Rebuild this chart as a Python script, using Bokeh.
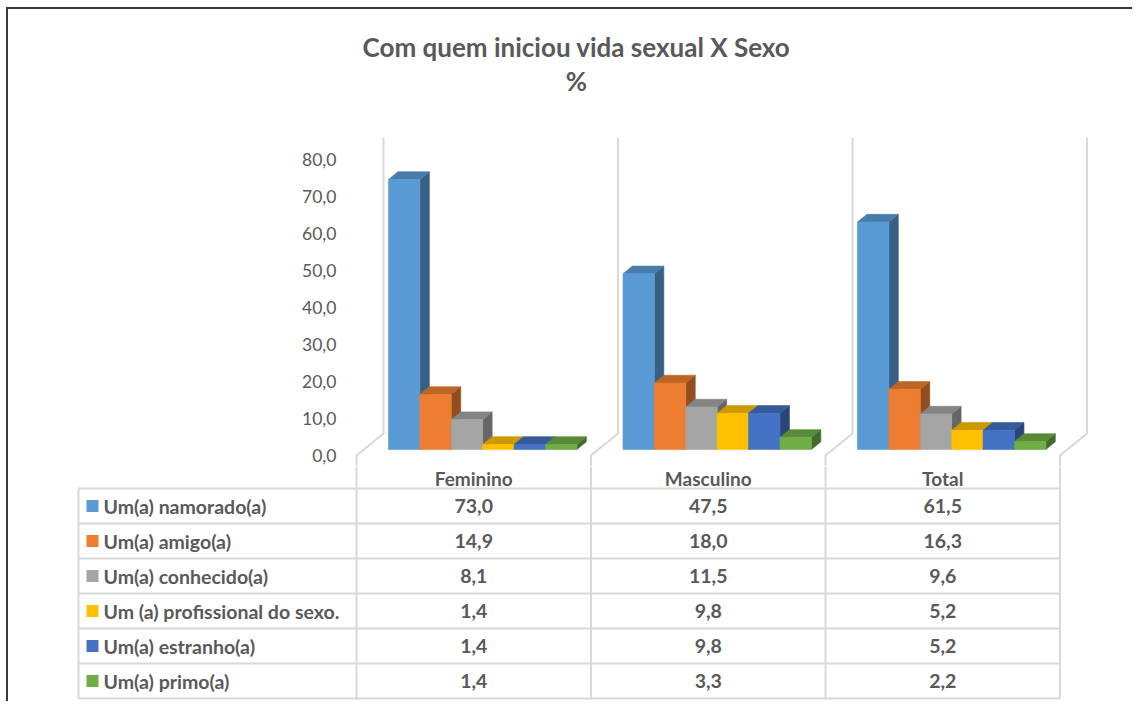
from bokeh.plotting import figure
from bokeh.layouts import column
from bokeh.models import Range1d, FixedTicker, CustomJSTickFormatter
from bokeh.core.properties import value
from bokeh.embed import file_html
from bokeh.resources import INLINE

# ---------------- data ----------------
title_lines = ["Com quem iniciou vida sexual X Sexo", "%"]
categories = ["Feminino", "Masculino", "Total"]
series_names = ["Um(a) namorado(a)", "Um(a) amigo(a)", "Um(a) conhecido(a)",
                "Um (a) profissional do sexo.", "Um(a) estranho(a)", "Um(a) primo(a)"]
namorado = [73.0, 47.5, 61.5]
amigo = [14.9, 18.0, 16.3]
conhecido = [8.1, 11.5, 9.6]
profissional = [1.4, 9.8, 5.2]
estranho = [1.4, 9.8, 5.2]
primo = [1.4, 3.3, 2.2]
series_values = [namorado, amigo, conhecido, profissional, estranho, primo]
series_colors = ["#5B9BD5", "#ED7D31", "#A5A5A5", "#FFC000", "#4472C4", "#70AD47"]
y_ticks = [0, 10, 20, 30, 40, 50, 60, 70, 80]

# ---------------- style / layout ----------------
FONT = "Lato"
TXT = "#595959"
GRID = "#D9D9D9"

ORG_X, ORG_Y = 8, 9          # page position of content (after CSS margin + border)
W = 1124
H_CHART = 457
H_TABLE = 235
CAT_PX = 234.5               # px per category
X0_PX = 356                  # page x of category 0 front edge
Y0_PX = 455                  # page y of value 0 on front plane
PX_PER_UNIT = 3.70
FRAME_LEFT_PX = 345
ROW_PX = 35.0
TABLE_TOP_PX = 488           # page y of first table row line
HEADER_Y_PX = 478

DXW = 27 / CAT_PX            # depth offset (front -> back wall), x
DYW = 22 / PX_PER_UNIT       # depth offset, y
Z_FRONT, Z_BACK = 0.27, 0.62
BAR_OFF = 24.7 / CAT_PX
BAR_W = 31.4 / CAT_PX


def px_to_x(px):
    return (px - X0_PX) / CAT_PX


def shade(hexcol, f):
    h = hexcol.lstrip("#")
    r, g, b = (int(h[i:i + 2], 16) for i in (0, 2, 4))
    return "#%02x%02x%02x" % (int(r * f), int(g * f), int(b * f))


def proj(x, y, z):
    return x + z * DXW, y + z * DYW


# ---------------- chart figure ----------------
p = figure(width=W, height=H_CHART, output_backend="svg", toolbar_location=None,
           x_range=Range1d(px_to_x(FRAME_LEFT_PX), px_to_x(ORG_X + W)),
           y_range=Range1d(-(ORG_Y + H_CHART - Y0_PX) / PX_PER_UNIT,
                            (Y0_PX - ORG_Y) / PX_PER_UNIT),
           x_axis_location=None,
           min_border_left=FRAME_LEFT_PX - ORG_X, min_border_right=0,
           min_border_top=0, min_border_bottom=0)
p.frame_align = False
p.outline_line_color = None
p.xgrid.visible = False
p.ygrid.visible = False

ax = p.yaxis[0]
ax.ticker = FixedTicker(ticks=y_ticks)
ax.formatter = CustomJSTickFormatter(code="return tick.toFixed(1).replace('.', ',');")
ax.axis_line_color = None
ax.major_tick_line_color = None
ax.minor_tick_line_color = None
ax.major_label_text_font = FONT
ax.major_label_text_font_size = "17.5px"
ax.major_label_text_color = TXT
ax.major_label_standoff = 3

# walls / floor dividers
ymin_chart = p.y_range.start
wx, wy = [], []
for i in range(len(categories) + 1):
    bx0, by0 = proj(i, 0, 1)
    bx1, by1 = proj(i, y_ticks[-1], 1)
    fx, fy = proj(i, 0, 0)
    wx.append([bx1, bx0, fx, fx])
    wy.append([by1, by0, fy, ymin_chart])
p.multi_line(wx, wy, line_color=GRID, line_width=2)

# 3D bars
xs, ys, cols = [], [], []
for i in range(len(categories)):
    for j, vals in enumerate(series_values):
        v = vals[i]
        x0 = i + BAR_OFF + j * BAR_W
        x1 = x0 + BAR_W
        c = series_colors[j]
        pts = [proj(x1, 0, Z_FRONT), proj(x1, 0, Z_BACK), proj(x1, v, Z_BACK), proj(x1, v, Z_FRONT)]
        xs.append([q[0] for q in pts]); ys.append([q[1] for q in pts]); cols.append(shade(c, 0.62))
        pts = [proj(x0, v, Z_FRONT), proj(x1, v, Z_FRONT), proj(x1, v, Z_BACK), proj(x0, v, Z_BACK)]
        xs.append([q[0] for q in pts]); ys.append([q[1] for q in pts]); cols.append(shade(c, 0.80))
        pts = [proj(x0, 0, Z_FRONT), proj(x1, 0, Z_FRONT), proj(x1, v, Z_FRONT), proj(x0, v, Z_FRONT)]
        xs.append([q[0] for q in pts]); ys.append([q[1] for q in pts]); cols.append(c)
p.patches(xs=xs, ys=ys, fill_color=cols, line_color=cols, line_width=0.6)

# title
p.text(x=[px_to_x(576)] * 2,
       y=[(Y0_PX - 46) / PX_PER_UNIT, (Y0_PX - 80) / PX_PER_UNIT],
       text=title_lines, text_font=value(FONT), text_font_style="bold",
       text_font_size="26px", text_color=TXT, text_align="center", text_baseline="middle")

# ---------------- table figure ----------------
n_rows = len(series_names)
t_top = ORG_Y + H_CHART
t = figure(width=W, height=H_TABLE, output_backend="svg", toolbar_location=None,
           x_range=Range1d(px_to_x(ORG_X), px_to_x(ORG_X + W)),
           y_range=Range1d((t_top + H_TABLE - TABLE_TOP_PX) / ROW_PX,
                           -(TABLE_TOP_PX - t_top) / ROW_PX),
           x_axis_location=None, y_axis_location=None,
           min_border_left=0, min_border_right=0, min_border_top=0, min_border_bottom=0)
t.frame_align = False
t.outline_line_color = None
t.xgrid.visible = False
t.ygrid.visible = False

left_x = px_to_x(78)
lx, ly = [], []
for r in range(n_rows + 1):
    lx.append([left_x, len(categories)]); ly.append([r, r])
lx.append([left_x, left_x]); ly.append([0, n_rows])
for i in range(len(categories) + 1):
    lx.append([i, i]); ly.append([t.y_range.end, n_rows])
t.multi_line(lx, ly, line_color=GRID, line_width=2)

# header labels (category names)
t.text(x=[i + 0.5 for i in range(len(categories))],
       y=[-(TABLE_TOP_PX - HEADER_Y_PX) / ROW_PX] * len(categories),
       text=categories, text_font=value(FONT), text_font_style="bold",
       text_font_size="19px", text_color=TXT, text_align="center", text_baseline="middle")

rows_y = [r + 0.5 for r in range(n_rows)]
t.scatter(x=[px_to_x(92)] * n_rows, y=rows_y, marker="square", size=12,
          fill_color=series_colors, line_color=None)
t.text(x=[px_to_x(103)] * n_rows, y=rows_y, text=series_names, text_font=value(FONT),
       text_font_style="bold", text_font_size="19.5px", text_color=TXT,
       text_align="left", text_baseline="middle")

vx, vy, vt = [], [], []
for j, vals in enumerate(series_values):
    for i, v in enumerate(vals):
        vx.append(i + 0.5); vy.append(j + 0.5); vt.append(f"{v:.1f}".replace(".", ","))
t.text(x=vx, y=vy, text=vt, text_font=value(FONT), text_font_style="bold",
       text_font_size="19.5px", text_color=TXT, text_align="center", text_baseline="middle")

layout = column(p, t, styles={"margin-left": "6px", "margin-top": "7px",
                              "border-left": "2px solid #3a3a3a",
                              "border-top": "2px solid #3a3a3a"})

open("out.html", "w").write(file_html(layout, INLINE))
